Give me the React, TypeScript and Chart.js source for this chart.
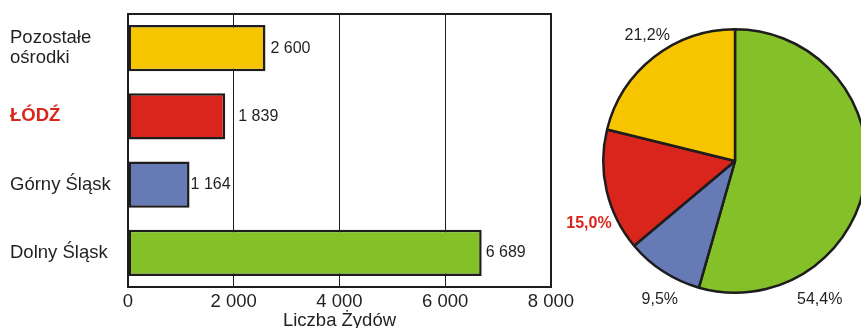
import React, { useEffect, useRef } from "react";
import { Chart, registerables } from "chart.js";

Chart.register(...registerables);

// Regions and their Jewish population counts (bar order, top to bottom)
const regions: (string | string[])[] = [["Pozostałe", "ośrodki"], "ŁÓDŹ", "Górny Śląsk", "Dolny Śląsk"];
const jewsCount = [2600, 1839, 1164, 6689];
const regionColors = ["#F7C400", "#DA251D", "#667AB5", "#84C128"];
const xTickValues = [0, 2000, 4000, 6000, 8000];
const axisTitle = "Liczba Żydów";

// Pie slices go clockwise from the top: Dolny Śląsk, Górny Śląsk, Łódź, Pozostałe
const pieOrder = [3, 2, 1, 0];
const shareLabels = ["21,2%", "15,0%", "9,5%", "54,4%"];
const highlightIndex = 1;

const FONT = "'Liberation Sans', Arial, Helvetica, sans-serif";
const TEXT = "#231F20";
const RED = "#DA251D";
const EDGE = "#1E1C1C";

const fmt = (v: number) => String(v).replace(/\B(?=(\d{3})+(?!\d))/g, " ");

// Spacing between bar end and its value label
const valueLabelGap = [5, 13, 1, 4];
// Pie label placement: angular shift from slice middle (deg) and distance beyond the rim (px)
const pieLabelShift = [50.7, -4.5, -10, 3];
const pieLabelReach = [31, 26, 27, 21];

const framePlugin = {
  id: "frame",
  beforeDatasetsDraw(chart: any) {
    const { ctx, chartArea: a } = chart;
    ctx.save();
    ctx.strokeStyle = EDGE;
    ctx.lineWidth = 2;
    ctx.strokeRect(a.left, a.top, a.right - a.left, a.bottom - a.top);
    ctx.restore();
  },
};

const barValuePlugin = {
  id: "barValues",
  afterDatasetsDraw(chart: any) {
    const { ctx } = chart;
    const meta = chart.getDatasetMeta(0);
    ctx.save();
    ctx.font = `16px ${FONT}`;
    ctx.fillStyle = TEXT;
    ctx.textAlign = "left";
    ctx.textBaseline = "middle";
    meta.data.forEach((bar: any, i: number) => {
      ctx.fillText(fmt(jewsCount[i]), bar.x + valueLabelGap[i], bar.y);
    });
    ctx.restore();
  },
};

const pieLabelPlugin = {
  id: "pieLabels",
  afterDraw(chart: any) {
    const { ctx } = chart;
    const meta = chart.getDatasetMeta(0);
    ctx.save();
    ctx.textAlign = "center";
    ctx.textBaseline = "middle";
    meta.data.forEach((arc: any, k: number) => {
      const idx = pieOrder[k];
      const mid = (arc.startAngle + arc.endAngle) / 2 + (pieLabelShift[k] * Math.PI) / 180;
      const r = arc.outerRadius + pieLabelReach[k];
      const bold = idx === highlightIndex;
      ctx.font = `${bold ? "bold " : ""}16px ${FONT}`;
      ctx.fillStyle = bold ? RED : TEXT;
      ctx.fillText(shareLabels[idx], arc.x + Math.cos(mid) * r, arc.y + Math.sin(mid) * r);
    });
    ctx.restore();
  },
};

export default function App() {
  const barRef = useRef<HTMLCanvasElement>(null);
  const pieRef = useRef<HTMLCanvasElement>(null);

  useEffect(() => {
    Chart.defaults.font.family = FONT;
    const bar = new Chart(barRef.current!, {
      type: "bar",
      data: {
        labels: regions,
        datasets: [
          {
            data: jewsCount,
            backgroundColor: regionColors,
            borderColor: EDGE,
            borderWidth: 2.5,
            borderSkipped: false,
            barPercentage: 0.9,
            categoryPercentage: 0.75,
          },
        ],
      },
      options: {
        indexAxis: "y",
        animation: false,
        responsive: false,
        layout: { padding: { left: 10, top: 14, right: 39, bottom: 0 } },
        plugins: { legend: { display: false }, tooltip: { enabled: false } },
        scales: {
          x: {
            min: 0,
            max: 8000,
            afterBuildTicks: (s: any) => {
              s.ticks = xTickValues.map((v) => ({ value: v }));
            },
            ticks: {
              callback: (v: any) => fmt(Number(v)),
              font: { size: 18.5, family: FONT },
              color: TEXT,
              padding: 4,
              maxRotation: 0,
              autoSkip: false,
            },
            grid: {
              color: (c: any) =>
                c.tick && (c.tick.value === 0 || c.tick.value === 8000) ? "rgba(0,0,0,0)" : EDGE,
              lineWidth: 1,
              drawTicks: false,
            },
            border: { display: false },
            title: {
              display: true,
              text: axisTitle,
              font: { size: 18.5, family: FONT },
              color: TEXT,
              padding: { top: 0, bottom: -4 },
            },
            afterFit: (s: any) => {
              s.height = 41;
            },
          },
          y: {
            ticks: {
              crossAlign: "far",
              font: (c: any) => ({
                size: 18.5,
                family: FONT,
                weight: c.index === highlightIndex ? "bold" : "normal",
                lineHeight: 1.08,
              }),
              color: (c: any) => (c.index === highlightIndex ? RED : TEXT),
            },
            grid: { display: false },
            border: { display: false },
            afterFit: (s: any) => {
              s.width = 118;
            },
          },
        },
      } as any,
      plugins: [framePlugin, barValuePlugin],
    });

    const pie = new Chart(pieRef.current!, {
      type: "pie",
      data: {
        labels: pieOrder.map((i) => regions[i]),
        datasets: [
          {
            data: pieOrder.map((i) => jewsCount[i]),
            backgroundColor: pieOrder.map((i) => regionColors[i]),
            borderColor: EDGE,
            borderWidth: 2.5,
          },
        ],
      },
      options: {
        animation: false,
        responsive: false,
        rotation: 0,
        layout: { padding: { left: 42, right: 42, top: 28, bottom: 34 } },
        plugins: { legend: { display: false }, tooltip: { enabled: false } },
      } as any,
      plugins: [pieLabelPlugin],
    });

    return () => {
      bar.destroy();
      pie.destroy();
    };
  }, []);

  return (
    <div
      style={{
        position: "fixed",
        left: 0,
        top: 0,
        width: 861,
        height: 328,
        overflow: "hidden",
        background: "#fff",
      }}
    >
      <canvas ref={barRef} width={590} height={328} style={{ position: "absolute", left: 0, top: 0 }} />
      <canvas ref={pieRef} width={350} height={328} style={{ position: "absolute", left: 560, top: 0 }} />
    </div>
  );
}
